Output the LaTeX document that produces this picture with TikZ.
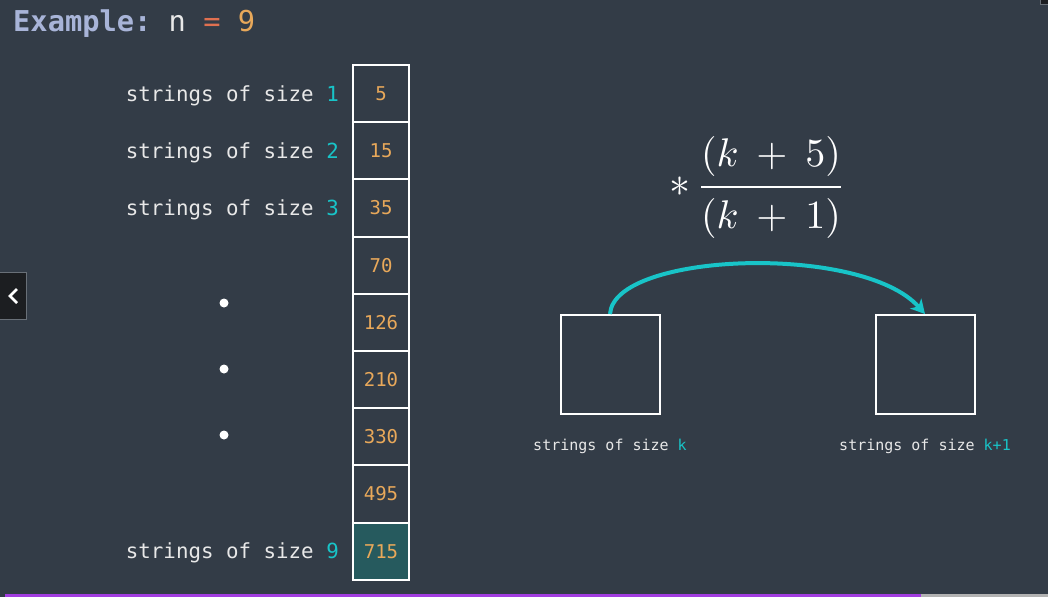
\documentclass[tikz,border=0pt]{standalone}
\usepackage{amsmath}
\usepackage{graphicx}
\usepackage{fontspec}
\setmonofont{DejaVu Sans Mono}
\usetikzlibrary{arrows.meta}
\definecolor{bg}{RGB}{51,60,71}
\definecolor{txt}{RGB}{232,232,232}
\definecolor{cy}{RGB}{24,196,200}
\definecolor{numc}{RGB}{232,168,90}
\definecolor{lav}{RGB}{168,180,216}
\definecolor{eqc}{RGB}{224,112,80}
\definecolor{tealfill}{RGB}{38,90,94}
\definecolor{btn}{RGB}{28,30,33}
\definecolor{btnb}{RGB}{105,112,120}
\definecolor{purp}{RGB}{162,61,224}
\begin{document}
\begin{tikzpicture}[x=1pt,y=-1pt,
  cell/.style={draw=white,line width=2pt,minimum width=56pt,minimum height=57.2pt,inner sep=0pt,
    font=\ttfamily\fontsize{19}{19}\selectfont,text=numc},
  lbl/.style={anchor=base east,inner sep=0pt,text=txt,font=\ttfamily\fontsize{20.8}{20.8}\selectfont},
  sbox/.style={draw=white,line width=2pt,minimum width=99pt,minimum height=99pt,inner sep=0pt},
  slbl/.style={anchor=base,inner sep=0pt,text=txt,font=\ttfamily\fontsize{15}{15}\selectfont},
  arr/.style={cy,line width=4pt,-{Stealth[length=14pt,width=15pt,inset=4pt]}}]
\fill[bg] (0,0) rectangle (1048,597);
\useasboundingbox (0,0) rectangle (1048,597);
% title
\node[anchor=base west,inner sep=0pt,font=\ttfamily\fontsize{28.7}{28.7}\selectfont] (title) at (13,31)
  {\textcolor{lav}{\bfseries Example:} \textcolor{txt}{n} \textcolor{eqc}{=} \textcolor{numc}{9}};
% column of cells
\foreach \v [count=\i] in {5,15,35,70,126,210,330,495} {
  \node[cell] (c\i) at (381,{36.4+57.2*\i}) {\v};
}
\node[cell,fill=tealfill] (c9) at (381,551.2) {715};
% left labels
\node[lbl] (l1) at (339,101.5) {strings of size \textcolor{cy}{1}};
\node[lbl] (l2) at (339,158.7) {strings of size \textcolor{cy}{2}};
\node[lbl] (l3) at (339,215.9) {strings of size \textcolor{cy}{3}};
\node[lbl] (l9) at (339,558.7) {strings of size \textcolor{cy}{9}};
% dots
\fill[white] (224,303) circle (4.5);
\fill[white] (224,369) circle (4.5);
\fill[white] (224,435) circle (4.5);
% formula
\node[text=white,inner sep=0pt] (ast) at (680,187) {\scalebox{4.2}{$\ast$}};
\node[anchor=base,text=white,inner sep=0pt] (frac) at (771,197)
  {\scalebox{4}{$\dfrac{\rule[-0.37em]{0pt}{0.75em}(k\:+\:5)}{\rule{0pt}{0.9em}(k\:+\:1)}$}};
% right boxes
\node[sbox] (bk) at (610,364.5) {};
\node[sbox] (bk1) at (925,364.5) {};
\node[slbl] (tk) at (610,450) {strings of size \textcolor{cy}{k}};
\node[slbl] (tk1) at (925,450) {strings of size \textcolor{cy}{k+1}};
\draw[arr] (bk.north) .. controls (614,252) and (862,243) .. (bk1.north);
% UI artefacts
\draw[btnb,fill=btn,line width=1pt] (-1,272.5) rectangle (26,319);
\draw[white,line width=2.5pt] (17,289) -- (10,296) -- (17,303);
\fill[purp] (5,594) rectangle (921,597);
\fill[gray!60] (921,594) rectangle (1048,597);
\draw[btnb,fill=btn,line width=0.8pt] (1040,-1) rectangle (1049,4);
\end{tikzpicture}
\end{document}
